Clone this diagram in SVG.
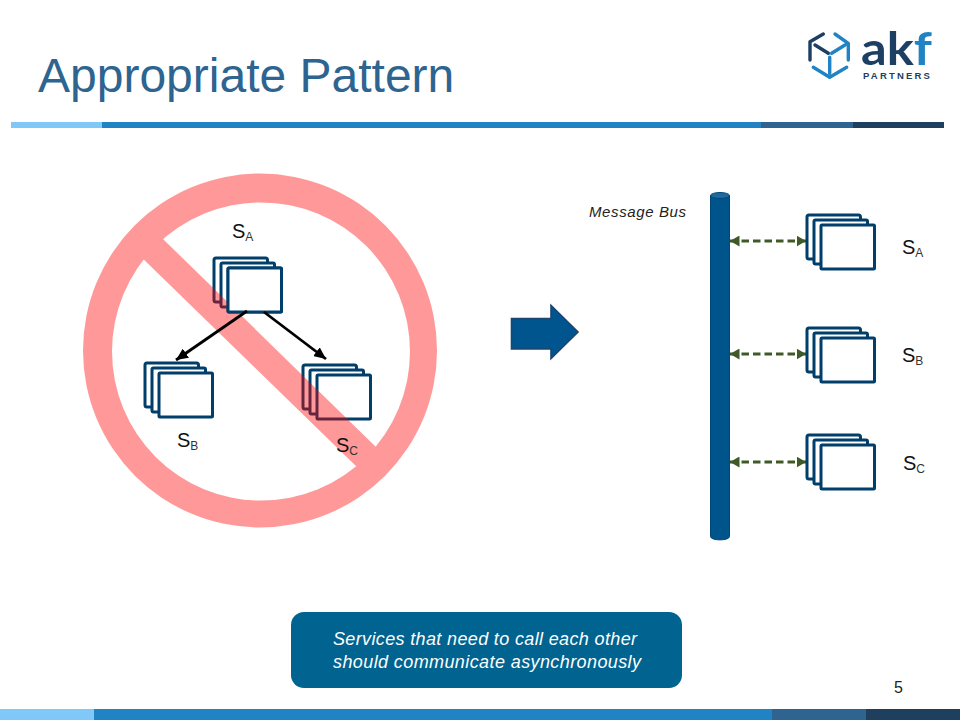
<svg xmlns="http://www.w3.org/2000/svg" width="960" height="720" viewBox="0 0 960 720">
<style>
text{font-family:"Liberation Sans",Arial,sans-serif}
.box{fill:#fff;stroke:#003f6b;stroke-width:3;stroke-linejoin:round}
.lbl{font-size:20px;fill:#111}
.sub{font-size:12px;fill:#333}
.bk{stroke:#000;stroke-width:2.8;fill:none;marker-end:url(#ah)}
.gr{stroke:#3e5a29;stroke-width:3;stroke-dasharray:7.5 4;fill:none}
.lg{fill:none;stroke-width:3.4;stroke-linecap:round;stroke-linejoin:round}
</style>
<defs>
<marker id="ah" markerUnits="userSpaceOnUse" markerWidth="13" markerHeight="11" refX="12" refY="5.500" orient="auto"><path d="M0 0L12 5.500L0 11Z" fill="#000"/></marker>
<marker id="gh" markerUnits="userSpaceOnUse" markerWidth="10" markerHeight="11" refX="9.500" refY="5.500" orient="auto-start-reverse"><path d="M0 0L9.500 5.500L0 11Z" fill="#3e5a29"/></marker>
<g id="stack">
<rect class="box" x="0" y="0" width="53.500" height="44" rx="2"/>
<rect class="box" x="7" y="5" width="53.500" height="44" rx="1.500"/>
<rect class="box" x="14" y="10" width="53.500" height="44" rx="1"/>
</g>
</defs>
<rect width="960" height="720" fill="#fff"/>
<g id="header">
<text x="38" y="92" font-size="48" fill="#2e6490">Appropriate Pattern</text>
<rect x="11" y="122" width="91" height="6" fill="#7fc8f8"/>
<rect x="102" y="122" width="659" height="6" fill="#1f83c4"/>
<rect x="761" y="122" width="92" height="6" fill="#2f6390"/>
<rect x="853" y="122" width="91" height="6" fill="#1e3f5e"/>
</g>
<g id="logo">
<path class="lg" stroke="#1c3f63" d="M823.3 34L810 41.7V60M815 45L828.3 53.3"/>
<path class="lg" stroke="#1f83c4" d="M813.3 67.3L829.700 77.3L846.7 67.3M848.3 60V43.3L835 34M845 45L831.7 53.3M829.700 57.3V73.3"/>
<text x="861" y="65" font-size="46" font-weight="700" textLength="71" lengthAdjust="spacingAndGlyphs" style="font-family:Lato,'Liberation Sans',sans-serif" fill="#1c3f63">ak<tspan fill="#1f83c4">f</tspan></text>
<text x="863" y="79" font-size="9.500" font-weight="700" letter-spacing="2.2" fill="#1c3f63">PARTNERS</text>
</g>
<g id="sa-left"><use href="#stack" x="214" y="258"/><text class="lbl" x="232" y="238">S<tspan class="sub" dy="3">A</tspan></text></g>
<g id="sb-left"><use href="#stack" x="145" y="363"/><text class="lbl" x="177" y="447">S<tspan class="sub" dy="3">B</tspan></text></g>
<g id="sc-left"><use href="#stack" x="303" y="365"/></g>
<g id="no-sign" opacity="0.4" fill="#f00">
<path fill-rule="evenodd" d="M83 350.500a177 177 0 1 0 354 0a177 177 0 1 0 -354 0ZM112 351.500a149 149 0 1 0 298 0a149 149 0 1 0 -298 0Z"/>
<polygon points="155,231.200 385.700,456.500 366.700,476.500 135,251"/>
</g>
<g id="sa-front"><rect class="box" x="228" y="268" width="53.500" height="44" rx="1"/></g>
<text class="lbl" x="336" y="452">S<tspan class="sub" dy="3">C</tspan></text>
<g id="connectors">
<path class="bk" d="M247 311L176 360"/>
<path class="bk" d="M264 312L326 359"/>
<path class="gr" d="M730 241H806" marker-start="url(#gh)" marker-end="url(#gh)"/>
<path class="gr" d="M730 354H806" marker-start="url(#gh)" marker-end="url(#gh)"/>
<path class="gr" d="M730 462H806" marker-start="url(#gh)" marker-end="url(#gh)"/>
</g>
<g id="block-arrow"><polygon points="511.500,318.500 551,318.500 551,305.500 578,332 551,358.500 551,349 511.500,349" fill="#00558f" stroke="#1c4570" stroke-width="1.600"/></g>
<g id="message-bus">
<path d="M710.500 195.500V536.500C710.500 541 729.500 541 729.500 536.500V195.500Z" fill="#00548c" stroke="#00487a"/>
<ellipse cx="720" cy="195.500" rx="9.500" ry="3" fill="#1f6a9a" stroke="#00487a"/>
<text x="589" y="217" font-size="15" font-style="italic" fill="#222" textLength="97" lengthAdjust="spacing">Message Bus</text>
</g>
<g id="sa-right"><use href="#stack" x="807" y="215"/><text class="lbl" x="902" y="254">S<tspan class="sub" dy="3">A</tspan></text></g>
<g id="sb-right"><use href="#stack" x="807" y="328"/><text class="lbl" x="902" y="362">S<tspan class="sub" dy="3">B</tspan></text></g>
<g id="sc-right"><use href="#stack" x="807" y="435"/><text class="lbl" x="903" y="470">S<tspan class="sub" dy="3">C</tspan></text></g>
<g id="callout">
<rect x="291" y="612" width="391" height="76" rx="13" fill="#006390"/>
<text x="333" y="645" font-size="18" font-style="italic" fill="#fff" textLength="304">Services that need to call each other</text>
<text x="333" y="668" font-size="18" font-style="italic" fill="#fff" textLength="308">should communicate asynchronously</text>
</g>
<g id="footer">
<text x="894" y="693" font-size="16" fill="#222">5</text>
<rect x="0" y="709" width="94" height="11" fill="#7fc8f8"/>
<rect x="94" y="709" width="678" height="11" fill="#1f83c4"/>
<rect x="772" y="709" width="94" height="11" fill="#2f6390"/>
<rect x="866" y="709" width="94" height="11" fill="#1e3f5e"/>
</g>
</svg>
